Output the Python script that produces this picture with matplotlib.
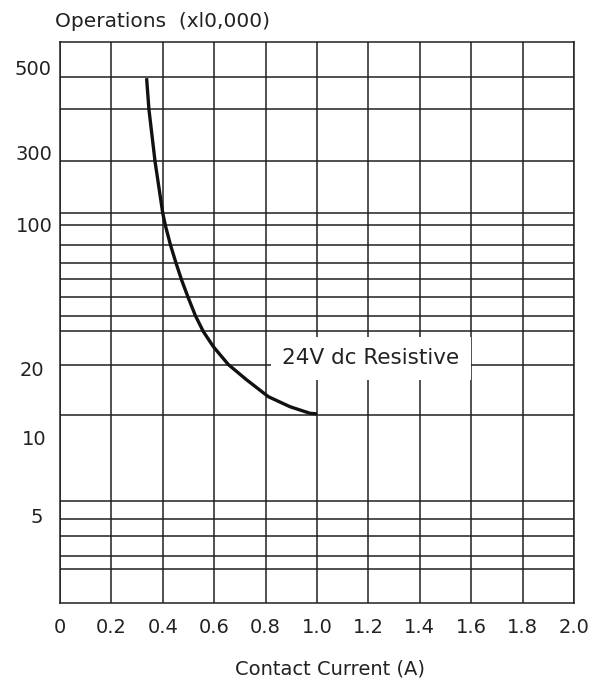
####################### IMPORT LIBRARIES #################################
import numpy as np
import matplotlib
matplotlib.use('Agg')
import matplotlib.pyplot as plt
from matplotlib.transforms import ScaledTranslation

plt.rcParams['font.family'] = ['DejaVu Sans']

####################### DATA #############################################
# contact current (A) and operations (x10,000)
current = [0.337, 0.346, 0.370, 0.400, 0.410, 0.430, 0.451, 0.473, 0.499,
           0.527, 0.558, 0.597, 0.655, 0.726, 0.811, 0.895, 0.973, 1.0]
operations = [470, 389, 259, 119, 99.4, 79.8, 65.4, 53.9, 44.1,
              36.0, 30.1, 25.4, 20.8, 17.8, 15.05, 13.63, 12.77, 12.7]

x_ticks = [0, 0.2, 0.4, 0.6, 0.8, 1.0, 1.2, 1.4, 1.6, 1.8, 2.0]
x_labels = ['0', '0.2', '0.4', '0.6', '0.8', '1.0', '1.2', '1.4', '1.6', '1.8', '2.0']
y_ticks = [500, 300, 100, 20, 10, 5]
y_labels = ['500', '300', '100', '20', '10', '5']
# horizontal rulings of the printed grid
y_grid = [474, 390, 261, 119, 100, 79.8, 65.4, 54.3, 44.3, 36.0, 30.3,
          20.7, 12.6, 5.67, 4.81, 4.15, 3.46, 3.06]

label_text = '24V dc Resistive'
label_x, label_y = 1.21, 22.3

####################### AXIS SCALE #######################################
# the printed log axis is not uniform, so use a piecewise log scale
scale_vals = np.log10([2.26, 5, 10, 20, 100, 300, 500, 584])
scale_pos = [0, 0.1569, 0.2943, 0.4191, 0.6742, 0.8043, 0.9542, 1.0]

def forward(v):
    v = np.clip(np.asarray(v, dtype=float), 1e-9, None)
    return np.interp(np.log10(v), scale_vals, scale_pos)

def inverse(p):
    return 10 ** np.interp(p, scale_pos, scale_vals)

####################### PLOT #############################################
fig = plt.figure(figsize=(5.9, 6.87), dpi=100)
ax = fig.add_axes([60/590, 1 - 603/687, 514/590, 560.7/687])
ax.set_yscale('function', functions=(forward, inverse))
ax.set_xlim(0, 2.0)
ax.set_ylim(2.26, 584)

line_col = '#231f20'
ax.plot(current, operations, color='#111111', lw=2.4, solid_capstyle='butt',
        solid_joinstyle='round', zorder=2)

ax.set_xticks(x_ticks)
ax.set_xticklabels(x_labels)
ax.set_yticks(y_ticks)
ax.set_yticklabels(y_labels)

ax.tick_params(axis='both', which='both', length=0, labelsize=14, colors='#222222')
ax.tick_params(axis='x', pad=11)
ax.tick_params(axis='y', pad=6)

# grid rulings
ax.grid(axis='x', which='major', color=line_col, lw=1.1)
for g in y_grid:
    ax.axhline(g, color=line_col, lw=1.1, zorder=1.5)
for s in ax.spines.values():
    s.set_color(line_col)
    s.set_linewidth(1.1)

# the printed labels are not right aligned exactly
shifts = {'300': 1, '100': 1, '20': -7, '10': -5, '5': -9}
for lab in ax.get_yticklabels():
    dx = shifts.get(lab.get_text(), 0)
    if dx:
        lab.set_transform(lab.get_transform() + ScaledTranslation(dx / 100, 0, fig.dpi_scale_trans))

ax.text(label_x, label_y, label_text, fontsize=15.5, ha='center', va='center',
        color='#222222', zorder=3,
        bbox=dict(facecolor='white', edgecolor='none', pad=8))

ax.set_xlabel('Contact Current (A)', fontsize=14, color='#222222')
ax.xaxis.set_label_coords(0.526, -0.118)
ax.xaxis.label.set_va('center')

fig.text(55/590, 1 - 27/687, 'Operations  (xl0,000)', fontsize=14.5,
         color='#222222', va='baseline', ha='left')

fig.savefig('out.png', dpi=100)
